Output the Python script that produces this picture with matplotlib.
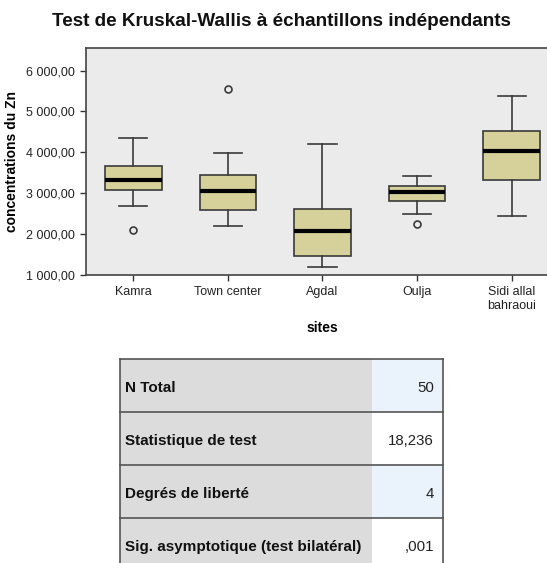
import matplotlib
matplotlib.use("Agg")
import matplotlib.pyplot as plt
from matplotlib.patches import Rectangle
from matplotlib.ticker import FuncFormatter

plt.rcParams['font.family'] = ['Liberation Sans', 'DejaVu Sans']

# valeurs (boîtes à moustaches SPSS)
sites = ["Kamra", "Town center", "Agdal", "Oulja", "Sidi allal\nbahraoui"]
whis_hi = [4340, 3990, 4200, 3410, 5380]
q3 = [3670, 3440, 2620, 3170, 4520]
med = [3320, 3060, 2070, 3030, 4020]
q1 = [3080, 2590, 1470, 2810, 3320]
whis_lo = [2680, 2190, 1200, 2480, 2450]
outliers = [[2090], [5545], [], [2245], []]

# tableau récapitulatif du test
table_labels = ["N Total", "Statistique de test", "Degrés de liberté",
                "Sig. asymptotique (test bilatéral)"]
table_values = ["50", "18,236", "4", ",001"]

fig = plt.figure(figsize=(5.47, 5.63), dpi=100)

W, H = 547, 563
ax = fig.add_axes([86 / W, 1 - 274.7 / H, (559 - 86) / W, (274.7 - 48) / H])
ax.set_facecolor('#ebebeb')

stats = []
for i in range(len(sites)):
    stats.append(dict(label=sites[i], whislo=whis_lo[i], q1=q1[i], med=med[i],
                      q3=q3[i], whishi=whis_hi[i], fliers=outliers[i]))

ax.bxp(stats, positions=range(1, len(sites) + 1), widths=0.6, patch_artist=True,
       boxprops=dict(facecolor='#d6d09a', edgecolor='#3a3a3a', linewidth=1.2),
       medianprops=dict(color='black', linewidth=3),
       whiskerprops=dict(color='#3a3a3a', linewidth=1.2),
       capprops=dict(color='#3a3a3a', linewidth=1.2),
       capwidths=0.3,
       flierprops=dict(marker='o', markersize=5, markerfacecolor='none',
                       markeredgecolor='#3a3a3a', markeredgewidth=1.2))

ax.set_xlim(0.5, 5.5)
ax.set_ylim(1000, 6556)
ax.set_yticks([1000, 2000, 3000, 4000, 5000, 6000])
ax.yaxis.set_major_formatter(FuncFormatter(
    lambda v, p: f"{v:,.2f}".replace(",", " ").replace(".", ",")))
ax.tick_params(axis='both', direction='out', length=4.5, width=1, color='#333333',
               labelsize=9, labelcolor='#222222')
for s in ax.spines.values():
    s.set_color('#444444')
    s.set_linewidth(1.2)

ax.set_ylabel("concentrations du Zn", fontsize=10, fontweight='bold', labelpad=5)
ax.set_xlabel("sites", fontsize=10, fontweight='bold', labelpad=7)

fig.text(281.5 / W, 1 - 22 / H, "Test de Kruskal-Wallis à échantillons indépendants",
         ha='center', va='center', fontsize=13.6, fontweight='bold', color='#111111')

# tableau du bas, dessiné en pixels
tab = fig.add_axes([0, 0, 1, 1])
tab.set_xlim(0, W)
tab.set_ylim(H, 0)
tab.axis('off')

x0, xm, x1 = 120, 372, 443
row_top = [359, 411.7, 465, 517.7]
row_h = 52.8
for i, (lab, val) in enumerate(zip(table_labels, table_values)):
    y = row_top[i]
    tab.add_patch(Rectangle((x0, y), xm - x0, row_h, facecolor='#dcdcdc',
                            edgecolor='none'))
    tab.add_patch(Rectangle((xm, y), x1 - xm, row_h,
                            facecolor='#eaf3fc' if i % 2 == 0 else 'white',
                            edgecolor='none'))
    tab.plot([x0, x1], [y, y], color='#555555', lw=1.2)
    tab.text(x0 + 5, y + row_h / 2 + 3, lab, ha='left', va='center',
             fontsize=11, fontweight='bold', color='#111111')
    tab.text(x1 - 9, y + row_h / 2 + 3, val, ha='right', va='center',
             fontsize=10.8, color='#222222')
tab.plot([x0, x0], [row_top[0], H + 5], color='#555555', lw=1.2)
tab.plot([x1, x1], [row_top[0], H + 5], color='#555555', lw=1.2)

fig.savefig("out.png", dpi=100)
